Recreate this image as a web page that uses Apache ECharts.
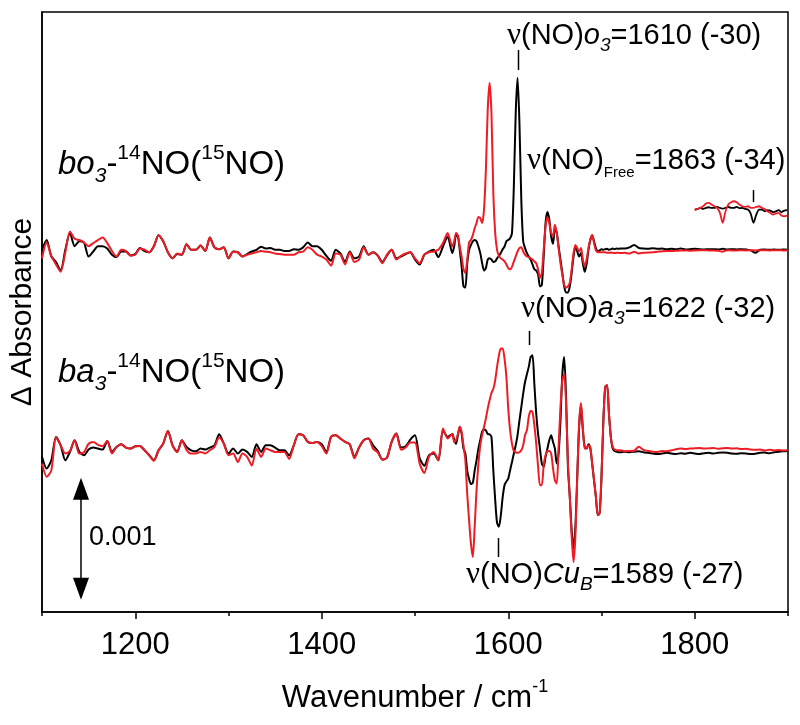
<!DOCTYPE html>
<html><head><meta charset="utf-8">
<script src="https://cdn.jsdelivr.net/npm/echarts@6/dist/echarts.min.js"></script>
<style>html,body{margin:0;padding:0;background:#fff}#c{width:800px;height:725px}</style>
</head><body><div id="c"></div>
<script>
// ---------- DATA (ΔA in units of 1e-5, relative to each trace's own baseline) ----------
function seq(a, b, s) { const r = []; for (let v = a; v <= b + 1e-9; v += s) r.push(+v.toFixed(3)); return r; }
// sampling grid of the spectra (cm-1)
const wavenumbers = [].concat(seq(1100, 1535, 5), seq(1540, 1720, 2), seq(1725, 1900, 5));

const bo3_14NO = [
 0,8,-5.5,-10,-17,0,14,3,7,6, -5.5,-1.4,3,3,1,-4,-6,-1.4,-1.4,-4.6,
 -3.5,1.4,-1,-2,3,12,7,-2,-7,-3.5, -4,4.6,0,0,3.5,-1,10,2,0.5,2,
 -7,-1.4,-2,-5.5,-3.5,-1.4,0,2.5,1,1.4, 0,0,-1,-1,0.5,0,2,6,3,3,
 0,-5,-9,0,-3,-10,-1.4,-7,-5.5,3, -4,-2,-4.6,-10,-4.6,0,-7,-5.5,-3.5,-2,
 -8,-12,-4,-1.4,0,-6,2.7,11,
 -2.7,2.7,12,11,0,-13.7,-30,-31,-11,0, 4,7,8,7,2.7,-2.7,-11,-17,-15,-8,
 -7,-8,-10,-9.5,-7,-5,-2.7,0.5,2.7,7, 8,9.5,13.7,52,112,141,104,41,7,1.4,
 -2.7,-5.5,-8,-12,-16,-17,-20,-30,-29,-5.5, 22,31,25,11,5,18,14,2.7,-8,-19,
 -30,-35,-35,-30,-19,-5.5,2.7,-1.4,-5.5,-2.7, -11,-18,-12,0,8,12,7,1.4,-1.4,-0.5,
 0.5,0,0.5,0.8,0,0.5,1,0.5,1,0.8, 1,
 1,2,4,1.5,1,0.8,1.2,0.8,1,0.5, 0.8,0.5,1,0.3,0.5,0.8,0.5,0.3,0.5,0.5,
 0.3,0.8,0.3,0.5,0.3,0.5,0.3,-0.5,-2.5,0, 0.3,0,0.3,0,0.3,0
];
const bo3_15NO = [
 -7,6,-5,-12,-18,-2,15,9,8,6, 3,5.5,8,10,5.5,-1,-5.5,0,-1,-4.6,
 -4,1,0,-2,3,12,7,-2,-7,-3, -4,4.6,0,0,3.5,-1,10,2,0.5,2,
 -7,-1.5,-2,-5.5,-4,-3,-2,-1,-1.5,-2, -3,-3.5,-4,-4,-4,-2,-1.5,2,0,-4,
 -5.5,-8,-13,-3,-4,-12,-2,-10,-8,2, -4,-2,-5,-11,-4,0,-8,-5,-3,-2,
 -7,-11,-4,-2,-1.4,0,5.5,13.7,
 2.7,7,13.7,12,2.7,-5.5,-16,-19,-8,6, 8,12,17.7,22,27,26,22,33,65.5,115,
 137,112,46,13.7,0,-5,-7,-8,-9.5,-12, -15,-16,-14,-9.5,-5.5,-1.4,1.4,2,-1.4,-4,
 -5.5,-6,-7,-8,-9.5,-11,-16,-23,-19,0, 19,27,22,13.7,11,20.5,13.7,1.4,-11,-20.5,
 -28.7,-31,-30,-27,-16,-2.7,4,1.4,-1.4,1.4, -8,-13.7,-8,1.4,8.7,12,5.5,-0.5,-2,-2,
 -2,-2,-2,-2.5,-2.5,-2.2,-2.5,-2.7,-2.5,-2.5, -2.7,
 -2.5,-3,-1.5,-3,-2.5,-2.2,-2,-1.5,-1.2,-1, -1,-0.8,-0.5,-0.5,-0.8,-0.5,-0.3,-0.3,-0.5,-0.5,
 -0.8,-1.5,-0.3,-0.5,-0.5,-0.3,-0.5,-0.3,-0.5,-0.3, -0.3,-0.5,-0.3,-0.3,-0.5,-0.3
];
const ba3_14NO = [
 -3.8,-13.4,-6.6,12.6,5.7,-6.6,0.3,9.8,0.3,-2.5, 2.2,3.8,3,2.2,9.3,0.3,4.4,6.6,3.8,3,
 4.9,5.2,1.6,-2.5,-6.6,1.6,7.1,17.5,5.7,0.3, 9.8,4.4,1.6,0.8,3,2.2,3.8,5.7,14.7,7.1,
 -1.1,3,-1.1,2.2,0.3,-3.8,6.6,0.3,5.7,5.7, 3.8,1.6,1.6,-2.5,5.7,14.7,13.9,8.5,7.6,8.5,
 6.6,0.3,12.6,13.9,11.2,8.5,6.6,-3.8,3.8,9.8, 11.2,5.7,1.1,-6,-4.4,8.5,15.3,3.8,4.9,10.4,
 13.9,-5,-11,-2.5,-1,-6.6,18,12.6,
 15,10,7,14,21,15,3,-1,-15,-22, -26,-25,-15,-6.6,3,10,17,18.6,18,15,
 14.7,12.6,-15,-39,-58,-61,-52,-37,-27,-24, -21.6,-14.7,-8,-1,5.7,14,26,37,48,57.6,
 64,70,78,79.5,56,31.7,15,3,-9.3,-12, -3.8,3,9.8,14,8.5,3,-9.3,-1,26,64,
 78,45,-12,-36.6,-64,-79,-61,-20,20.7,38.5, 18,4.4,3,6.6,3,-9.3,-23,-36.6,-51.6,-50,
 -20,26,53.5,55,31.7,12.6,3,1,0.5,0, 0,
 0.5,0,0.5,0.8,0,-0.5,-1,-1.5,-1,-0.5, -1,-1.5,-0.8,-1.2,-0.5,-1,-1.5,-0.8,-0.5,-1,
 -0.5,-0.3,-0.5,-1,-1.2,-0.8,-1,-1.5,-1.3,-0.5, -0.3,-0.8,0,0.5,0.8,1
];
const ba3_15NO = [
 -9.3,-20,-15,12.6,5.7,-1,1,9.8,-1.1,0, 7,8.5,6,5,9.3,-1,4.4,6.6,3.8,3,
 4.9,5.2,1.6,-2.5,-7,1.6,7.1,17.5,5.7,0, 9.8,2,-1.1,-1.1,0.3,-1,1.6,4.4,12,7,
 -2.5,-1,-8,-1,-3.8,-10.9,3,-3.8,3,1.6, 0.3,0.3,0.3,-5.5,5.7,14.7,13.9,8.5,7.6,8.5,
 5,-1,12.6,13.9,11.2,8.5,6.6,-5,3.8,9.8, 11.2,3,0,-6,-4.4,8.5,15.3,2,4,8,
 8,-9.3,-17,-3.8,0.3,-6.6,19.4,11.2,
 15,8.5,10,15,21,16.7,5.7,-6.6,-34,-55.7, -75,-86,-61,-31,-9.3,5.7,14,20.7,27.6,35.8,
 42.6,48.6,52,59,70,79.4,85,85,76.7,61.7, 35.8,18,7,1,0,-0.5,0,1.6,5.7,14,
 18,29,34,33,22,7,-12,-27,-27,-10.6, -2.5,1,1,-1,-13,-23,-25.7,4.4,37,59,
 64,40,-9,-36.6,-69,-90,-69,-20,23.5,40.4, 20.7,3,3.8,5.5,4.4,-9.3,-23,-36.6,-51.6,-50,
 -20,26,53.5,55,31.7,12.6,4.4,2.2,1.6,1.6, 1.6,
 0.8,1,1.2,4.5,2,1,0.5,0.3,1,0.8, 1.5,2.5,3,2.6,3,3.3,3.5,3,3.2,3.5,
 2.8,3.3,3.5,3,3.2,2.6,2.8,2.2,2,2.2, 1.5,2,1.5,1.8,1.5,1.6
];
// free NO region (inset trace, 1800-1899 cm-1)
const freeWavenumbers = seq(1800, 1899, 3);
const free_14NO = [0,0.5,1.4,0.5,1.4,1.9,1.4,1.4,2.2,1.4,0.8,1.4,2.2,1.4,1.4,2.2,1.1,1.4,0.5,0,-3.3,-10.9,-4.1,0,0,-1.4,-0.5,-0.8,-2.2,-1.4,-0.5,-2.2,-0.8,-0.5];
const free_15NO = [-0.5,0.5,1.4,2.7,4.9,5.5,4.1,2.7,1.4,-2.7,-10.9,-1.4,4.1,6,6.8,6,4.1,2.7,2.2,2.7,1.4,1.4,2.2,2.7,1.4,0.5,-1.4,-2.7,-4.1,-3.3,-2.7,-4.9,-5.5,-4.9];

// vertical offsets of the stacked traces (same units)
const offsetBo3 = 297, offsetBa3 = 131, offsetFree = 330;
// scale bar: 0.001 ΔA = 100 units
const scaleBarStart = 10, scaleBarSpan = 100, scaleBarLabel = '0.001';

const majorTicks = [1200, 1400, 1600, 1800];
const minorTicks = [1100, 1300, 1500, 1700, 1900];
const peakMarks = [1610, 1863, 1622, 1589];

// ---------- CHART ----------
const FONT = "'Liberation Sans', Arial, Helvetica, sans-serif";
const BLACK = '#000000', RED = '#ee1c25';

function pairs(xs, ys, off) { return xs.map((x, i) => [x, ys[i] + off]); }

const chart = echarts.init(document.getElementById('c'), null, {renderer: 'canvas'});

function lineSeries(name, xs, ys, off, color, w) {
  return {name, type: 'line', xAxisIndex: 0, yAxisIndex: 0, data: pairs(xs, ys, off),
    showSymbol: false, symbol: 'none', smooth: 0.25, lineStyle: {color, width: w}, z: color === RED ? 3 : 2,
    silent: true};
}

const option = {
  animation: false,
  backgroundColor: '#fff',
  grid: {left: 38, top: 12, width: 750, height: 600, show: true, borderColor: '#000', borderWidth: 1.5},
  xAxis: [{
    type: 'value', min: 1100, max: 1900, position: 'bottom',
    axisLine: {show: true, lineStyle: {color: '#000', width: 1.5}},
    axisTick: {show: true, length: 7, customValues: majorTicks, lineStyle: {color: '#000', width: 1.5}},
    axisLabel: {customValues: majorTicks, formatter: v => String(v), fontSize: 31, fontFamily: FONT, color: '#000', margin: 18},
    splitLine: {show: false},
    name: '{a|Wavenumber / cm}{s|-1}', nameLocation: 'middle', nameGap: 66,
    nameTextStyle: {rich: {
      a: {fontSize: 31, fontFamily: FONT, color: '#000', lineHeight: 40},
      s: {fontSize: 18, fontFamily: FONT, color: '#000', lineHeight: 18, verticalAlign: 'top'}
    }}
  }, {
    type: 'value', min: 1100, max: 1900, position: 'bottom',
    axisLine: {show: false},
    axisTick: {show: true, length: 4, customValues: minorTicks, lineStyle: {color: '#000', width: 1.5}},
    axisLabel: {show: false}, splitLine: {show: false}
  }],
  yAxis: {
    type: 'value', min: 0, max: 492,
    axisLine: {show: true, lineStyle: {color: '#000', width: 1.5}},
    axisTick: {show: false}, axisLabel: {show: false}, splitLine: {show: false},
    name: 'Δ Absorbance', nameLocation: 'middle', nameRotate: 90, nameGap: 4,
    nameTextStyle: {fontSize: 30, fontFamily: FONT, color: '#000'}
  },
  series: [
    lineSeries('bo3 14NO', wavenumbers, bo3_14NO, offsetBo3, BLACK, 2),
    lineSeries('bo3 15NO', wavenumbers, bo3_15NO, offsetBo3, RED, 2),
    lineSeries('ba3 14NO', wavenumbers, ba3_14NO, offsetBa3, BLACK, 2),
    lineSeries('ba3 15NO', wavenumbers, ba3_15NO, offsetBa3, RED, 2),
    lineSeries('free 14NO', freeWavenumbers, free_14NO, offsetFree, BLACK, 1.8),
    lineSeries('free 15NO', freeWavenumbers, free_15NO, offsetFree, RED, 1.8)
  ]
};
chart.setOption(option);

// ---------- ANNOTATIONS ----------
const AN = 29;
const rich = {
  n:   {fontFamily: FONT, fontSize: AN, lineHeight: 40, color: '#000'},
  nu:  {fontFamily: "'Liberation Serif', 'DejaVu Serif', serif", fontSize: AN + 2, lineHeight: 40, color: '#000'},
  i:   {fontFamily: FONT, fontStyle: 'italic', fontSize: AN, lineHeight: 40, color: '#000'},
  isb: {fontFamily: FONT, fontStyle: 'italic', fontSize: 19, lineHeight: 18, verticalAlign: 'bottom', color: '#000'},
  sb:  {fontFamily: FONT, fontSize: 15, lineHeight: 16, verticalAlign: 'bottom', color: '#000'}
};
const TT = 33;
const richT = {
  n:   {fontFamily: FONT, fontSize: TT, lineHeight: 44, color: '#000'},
  i:   {fontFamily: FONT, fontStyle: 'italic', fontSize: TT, lineHeight: 44, color: '#000'},
  isb: {fontFamily: FONT, fontStyle: 'italic', fontSize: 21, lineHeight: 20, verticalAlign: 'bottom', color: '#000'},
  sp:  {fontFamily: FONT, fontSize: 21, lineHeight: 20, verticalAlign: 'top', color: '#000'},
  r:   {fontFamily: FONT, fontSize: TT, lineHeight: 44, color: RED},
  rsp: {fontFamily: FONT, fontSize: 21, lineHeight: 20, verticalAlign: 'top', color: RED}
};

function px(wn, v) { return chart.convertToPixel({xAxisIndex: 0, yAxisIndex: 0}, [wn, v]); }

const graphics = [];
function txt(x, y, text, r) {
  graphics.push({type: 'text', left: x, top: y, silent: true, style: {text, rich: r}});
}
txt(507, 20, '{nu|ν}{n|(NO)}{i|o}{isb|3}{n|=1610 (-30)}', rich);
txt(527, 145, '{nu|ν}{n|(NO)}{sb|Free}{n|=1863 (-34)}', rich);
txt(521, 293, '{nu|ν}{n|(NO)}{i|a}{isb|3}{n|=1622 (-32)}', rich);
txt(466, 559, '{nu|ν}{n|(NO)}{i|Cu}{isb|B}{n|=1589 (-27)}', rich);
txt(58, 143, '{i|bo}{isb|3}{n|-}{sp|14}{n|NO(}{rsp|15}{r|NO}{n|)}', richT);
txt(58, 351, '{i|ba}{isb|3}{n|-}{sp|14}{n|NO(}{rsp|15}{r|NO}{n|)}', richT);

// peak marker ticks
const markY = [[50, 70], [190, 202], [331, 345], [538, 557]];
peakMarks.forEach((wn, k) => {
  const x = Math.round(px(wn, 0)[0]) + 0.5;
  graphics.push({type: 'line', silent: true, shape: {x1: x, y1: markY[k][0], x2: x, y2: markY[k][1]},
    style: {stroke: '#000', lineWidth: 1.5}});
});

// scale bar (double arrow = 0.001 ΔA)
const yTop = px(1100, scaleBarStart + scaleBarSpan)[1];
const yBot = px(1100, scaleBarStart)[1];
const bx = 81;
graphics.push({type: 'line', silent: true, shape: {x1: bx, y1: yTop + 10, x2: bx, y2: yBot - 10}, style: {stroke: '#000', lineWidth: 1.5}});
graphics.push({type: 'polygon', silent: true, shape: {points: [[bx, yTop], [bx - 8, yTop + 22], [bx + 8, yTop + 22]]}, style: {fill: '#000'}});
graphics.push({type: 'polygon', silent: true, shape: {points: [[bx, yBot], [bx - 8, yBot - 22], [bx + 8, yBot - 22]]}, style: {fill: '#000'}});
graphics.push({type: 'text', silent: true, left: 89, top: (yTop + yBot) / 2 - 15,
  style: {text: scaleBarLabel, fontSize: 27, fontFamily: FONT, fill: '#000'}});

chart.setOption({graphic: graphics});
</script>
</body></html>
